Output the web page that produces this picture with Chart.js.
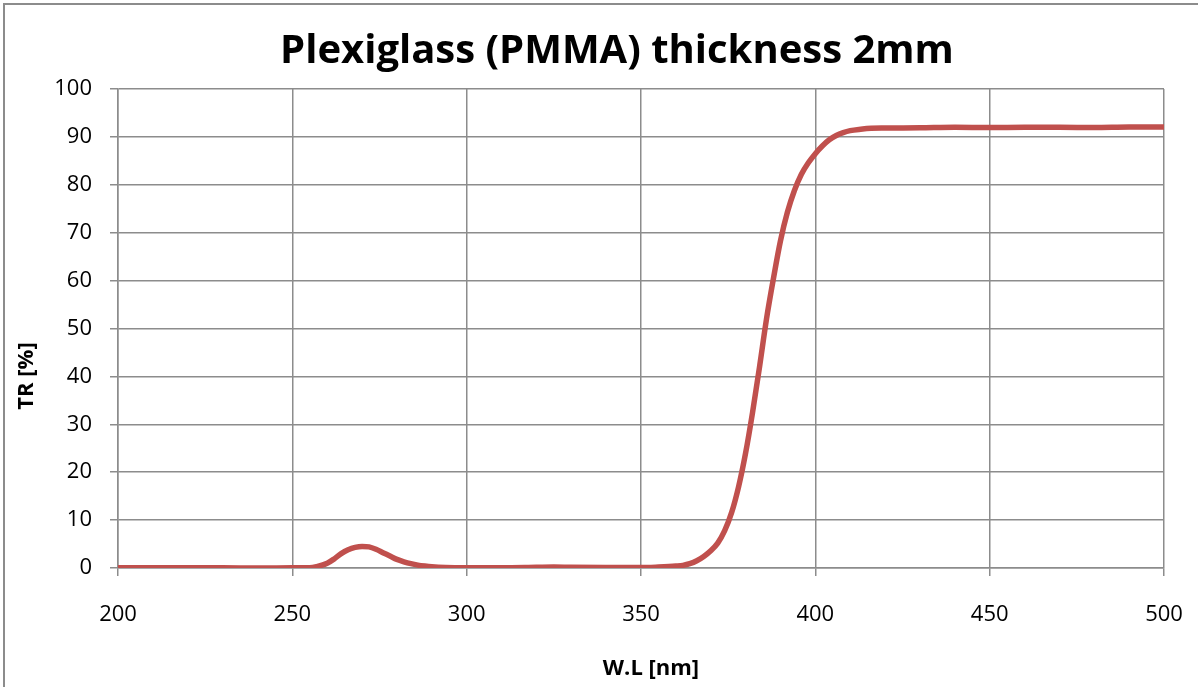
<!DOCTYPE html>
<html>
<head>
<meta charset="utf-8">
<title>Plexiglass (PMMA) thickness 2mm</title>
<script src="https://cdn.jsdelivr.net/npm/chart.js@4/dist/chart.umd.min.js"></script>
<style>
    html, body { margin: 0; padding: 0; background: #fff; overflow: hidden; }
    #frame {
        position: absolute; left: 3px; top: 3px;
        width: 1300px; height: 800px;
        border: 2px solid #8c8c8c;
    }
    #wrap { position: absolute; left: 0; top: 0; width: 1198px; height: 687px; }
</style>
</head>
<body>
<div id="frame"></div>
<div id="wrap"><canvas id="trChart" width="1198" height="687"></canvas></div>
<script>
// wavelength [nm]
const wavelengths = [
    200, 210, 220, 230, 240, 250, 255, 257, 260, 262, 264, 266, 268, 270,
    272, 274, 276, 278, 280, 282, 284, 286, 288, 290, 294, 300, 310, 320,
    325, 330, 340, 350, 355, 358, 360, 362, 364, 366, 368, 370, 372, 374,
    376, 378, 380, 382, 384, 386, 388, 390, 392, 394, 396, 398, 400, 402,
    404, 406, 408, 410, 413, 416, 420, 430, 440, 450, 460, 470, 480, 490, 500
];

// transmission [%]
const transmission = [
    0.05, 0.05, 0.03, 0.03, 0.02, 0.03, 0.05, 0.3, 1.0, 1.9, 3.0, 3.8, 4.3, 4.5,
    4.4, 3.9, 3.2, 2.5, 1.8, 1.3, 0.9, 0.6, 0.4, 0.25, 0.1, 0.05, 0.05, 0.15,
    0.2, 0.15, 0.1, 0.1, 0.2, 0.3, 0.4, 0.55, 0.9, 1.5, 2.4, 3.6, 5.2, 7.8,
    11.6, 17.0, 24.0, 32.5, 42.0, 52.0, 60.5, 68.3, 74.3, 78.8, 82.2, 84.6, 86.5, 88.1,
    89.4, 90.3, 90.9, 91.3, 91.6, 91.8, 91.85, 91.9, 92.0, 91.95, 92.0, 92.0, 91.95, 92.05, 92.05
];

const xTicks = [200, 250, 300, 350, 400, 450, 500];
const yTicks = [0, 10, 20, 30, 40, 50, 60, 70, 80, 90, 100];

const chartTitle = 'Plexiglass (PMMA) thickness 2mm';
const xTitle = 'W.L [nm]';
const yTitle = 'TR [%]';

const gridColor = '#8c8c8c';
const lineColor = '#c0504d';

// titles are drawn by hand so they sit where the original puts them
const chartTexts = {
    id: 'chartTexts',
    afterDraw(chart) {
        const ctx = chart.ctx;
        ctx.save();
        ctx.fillStyle = '#000';
        ctx.textAlign = 'center';

        ctx.font = 'bold 40px "Open Sans"';
        ctx.textBaseline = 'alphabetic';
        ctx.fillText(chartTitle, 617, 63);

        ctx.font = 'bold 22px "Open Sans"';
        ctx.textBaseline = 'middle';
        ctx.fillText(xTitle, 651, 669);
        ctx.translate(27, 376);
        ctx.rotate(-Math.PI / 2);
        ctx.fillText(yTitle, 0, 0);
        ctx.restore();
    }
};

new Chart(document.getElementById('trChart'), {
    type: 'line',
    data: {
        datasets: [{
            label: yTitle,
            data: wavelengths.map((w, i) => ({ x: w, y: transmission[i] })),
            borderColor: lineColor,
            backgroundColor: lineColor,
            borderWidth: 5.5,
            pointRadius: 0,
            cubicInterpolationMode: 'monotone',
            fill: false
        }]
    },
    options: {
        responsive: false,
        animation: false,
        devicePixelRatio: 1,
        layout: { padding: { left: 0, right: 0, top: 89, bottom: 0 } },
        plugins: {
            legend: { display: false },
            tooltip: { enabled: false },
            title: { display: false }
        },
        scales: {
            x: {
                type: 'linear',
                min: 200,
                max: 500,
                afterBuildTicks: (scale) => { scale.ticks = xTicks.map(v => ({ value: v })); },
                afterFit: (scale) => {
                    scale.height = 119;
                    scale.paddingLeft = 0;
                    scale.paddingRight = 34;
                },
                ticks: {
                    color: '#000',
                    padding: 26,
                    maxRotation: 0,
                    font: { family: 'Open Sans', size: 22 }
                },
                grid: { color: gridColor, lineWidth: 1.5, tickLength: 8 },
                border: { color: gridColor, width: 1.5 }
            },
            y: {
                min: 0,
                max: 100,
                afterBuildTicks: (scale) => { scale.ticks = yTicks.map(v => ({ value: v })); },
                afterFit: (scale) => { scale.width = 118; },
                ticks: {
                    color: '#000',
                    padding: 18,
                    font: { family: 'Open Sans', size: 22 }
                },
                grid: { color: gridColor, lineWidth: 1.5, tickLength: 8 },
                border: { color: gridColor, width: 1.5 }
            }
        }
    },
    plugins: [chartTexts]
});
</script>
</body>
</html>
